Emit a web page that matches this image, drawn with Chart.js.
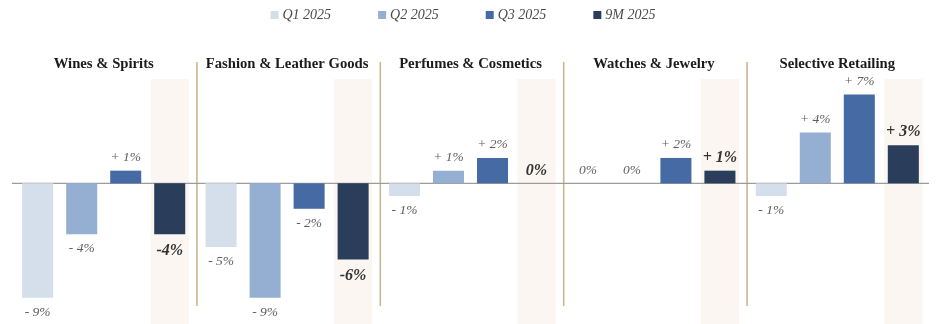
<!DOCTYPE html>
<html>
<head>
<meta charset="utf-8">
<script src="https://cdn.jsdelivr.net/npm/chart.js@4"></script>
<style>
  html, body { margin: 0; padding: 0; background: #fff; }
  #wrap { width: 940px; height: 324px; position: relative; }
</style>
</head>
<body>
<div id="wrap"><canvas id="chart"></canvas></div>
<script>
// data
const categories = ['Wines & Spirits', 'Fashion & Leather Goods', 'Perfumes & Cosmetics', 'Watches & Jewelry', 'Selective Retailing'];
const seriesNames = ['Q1 2025', 'Q2 2025', 'Q3 2025', '9M 2025'];
const q1 = [-9, -5, -1, 0, -1];
const q2 = [-4, -9, 1, 0, 4];
const q3 = [1, -2, 2, 2, 7];
const nineMonths = [-4, -6, 0, 1, 3];

const colors = ['#d5dfeb', '#95afd2', '#466aa3', '#2a3e5c'];
const serif = "'Liberation Serif', 'DejaVu Serif', serif";

function fmt(v, compact) {
    if (v === 0) return '0%';
    if (v > 0) return '+ ' + v + '%';
    return (compact ? '-' : '- ') + Math.abs(v) + '%';
}

// shaded column behind the 9M bars, group separators and zero line
const backdrop = {
    id: 'backdrop',
    beforeDatasetsDraw(chart) {
        const ctx = chart.ctx;
        const area = chart.chartArea;
        const x = chart.scales.x;
        const y = chart.scales.y;
        ctx.save();
        ctx.fillStyle = '#fbf6f2';
        chart.getDatasetMeta(3).data.forEach(bar => {
            ctx.fillRect(bar.x - bar.width / 2 - 3.5, area.top + 17, bar.width + 7, chart.height);
        });
        ctx.strokeStyle = '#c9b590';
        ctx.lineWidth = 1.6;
        for (let i = 1; i < categories.length; i++) {
            const sx = (x.getPixelForValue(i - 1) + x.getPixelForValue(i)) / 2 + 1.5;
            ctx.beginPath();
            ctx.moveTo(sx, area.top);
            ctx.lineTo(sx, area.bottom);
            ctx.stroke();
        }
        const zy = y.getPixelForValue(0);
        ctx.strokeStyle = '#9c9c9c';
        ctx.lineWidth = 1.2;
        ctx.beginPath();
        ctx.moveTo(area.left, zy);
        ctx.lineTo(area.right, zy);
        ctx.stroke();
        ctx.restore();
    },
    afterDatasetsDraw(chart) {
        const ctx = chart.ctx;
        const area = chart.chartArea;
        const x = chart.scales.x;
        ctx.save();
        ctx.textAlign = 'center';
        ctx.textBaseline = 'middle';

        // group titles
        ctx.fillStyle = '#1b1b1b';
        ctx.font = 'bold 14.7px ' + serif;
        categories.forEach((c, i) => ctx.fillText(c, x.getPixelForValue(i), area.top + 2));

        // value labels
        chart.data.datasets.forEach((ds, di) => {
            const total = di === 3;
            ctx.font = total ? 'italic bold 16px ' + serif : 'italic 13.5px ' + serif;
            ctx.fillStyle = total ? '#333333' : '#5e5e5e';
            chart.getDatasetMeta(di).data.forEach((bar, i) => {
                const v = ds.data[i];
                const ly = v < 0 ? bar.y + (total ? 16.5 : 14.5) : bar.y - 13;
                ctx.fillText(fmt(v, total), bar.x, ly);
            });
        });

        // legend
        ctx.font = 'italic 14px ' + serif;
        ctx.textAlign = 'left';
        const gap = 47;
        const widths = seriesNames.map(n => 12 + ctx.measureText(n).width);
        const total = widths.reduce((a, b) => a + b, 0) + gap * (widths.length - 1);
        let lx = chart.width / 2 - total / 2 - 7;
        seriesNames.forEach((n, i) => {
            ctx.fillStyle = colors[i];
            ctx.fillRect(lx, 11, 8, 8);
            ctx.fillStyle = '#4a4a4a';
            ctx.fillText(n, lx + 12, 15);
            lx += widths[i] + gap;
        });
        ctx.restore();
    }
};

new Chart(document.getElementById('chart'), {
    type: 'bar',
    data: {
        labels: categories,
        datasets: [
            { label: seriesNames[0], data: q1, backgroundColor: colors[0] },
            { label: seriesNames[1], data: q2, backgroundColor: colors[1] },
            { label: seriesNames[2], data: q3, backgroundColor: colors[2] },
            { label: seriesNames[3], data: nineMonths, backgroundColor: colors[3] }
        ]
    },
    options: {
        responsive: true,
        maintainAspectRatio: false,
        animation: false,
        categoryPercentage: 0.96,
        barPercentage: 0.705,
        layout: { padding: { left: 12, right: 11, top: 62, bottom: 18 } },
        plugins: {
            legend: { display: false },
            tooltip: { enabled: false }
        },
        scales: {
            x: { display: false },
            y: { display: false, min: -9.65, max: 9.55 }
        }
    },
    plugins: [backdrop]
});
</script>
</body>
</html>
